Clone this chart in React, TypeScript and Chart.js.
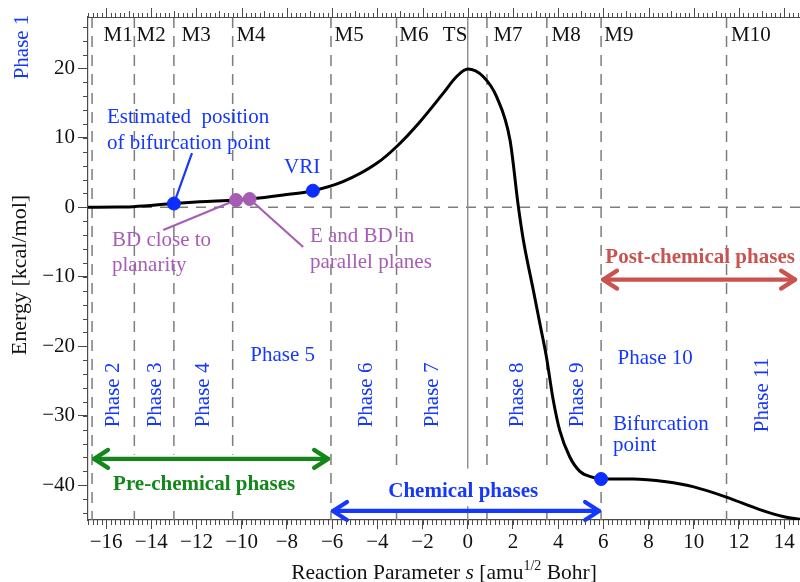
import React, { useEffect, useRef } from 'react';
import { Chart, registerables, LineController } from 'chart.js';

Chart.register(...registerables);

// Marker datasets should not reserve extra layout padding around the plot
class MarkerController extends LineController {
  static id = 'markerline';
  static defaults = LineController.defaults;
  getMaxOverflow() { return 0; }
}
Chart.register(MarkerController as any);

// ---- data ----
const sValues = [-16.8, -15.5, -14.8, -13.0, -11.85, -10.25, -9.65, -8.16, -6.85, -5.52, -4.04, -3.13, -2.12, -1.09, -0.5, 0, 0.69, 1.28, 1.87, 2.24, 2.46, 2.9, 3.19, 3.48, 3.78, 4.07, 4.51, 4.96, 5.47, 5.9, 7.3, 8.78, 9.96, 11.44, 12.92, 13.95, 14.7];
const energyValues = [0.0, 0.05, 0.1, 0.55, 0.8, 1.05, 1.2, 1.78, 2.4, 3.7, 6.3, 8.8, 12.3, 16.4, 18.8, 19.9, 18.8, 15.9, 9.7, 0.1, -4.7, -11.9, -16.7, -21.5, -27.7, -32.1, -35.9, -38.0, -38.8, -39.1, -39.1, -39.5, -40.2, -41.7, -43.5, -44.5, -44.9];

const blueS = [-13.0, -6.85, 5.9];
const blueE = [0.55, 2.4, -39.1];
const purpleS = [-10.25, -9.65];
const purpleE = [1.05, 1.2];

const dividerS = [-16.62, -14.75, -13.0, -10.4, -6.05, -3.15, 0.85, 3.5, 5.9, 11.45];
const tsS = 0;

const mLabels = ['M1', 'M2', 'M3', 'M4', 'M5', 'M6', 'TS', 'M7', 'M8', 'M9', 'M10'];
const mLabelS = [-15.47, -14.01, -12.02, -9.59, -5.25, -2.38, -0.56, 1.78, 4.35, 6.69, 12.53];

const rotatedPhases = ['Phase 2', 'Phase 3', 'Phase 4', 'Phase 6', 'Phase 7', 'Phase 8', 'Phase 9', 'Phase 11'];
const rotatedPhaseS = [-15.69, -13.83, -11.71, -4.46, -1.58, 2.18, 4.84, 13.02];
const flatPhases = ['Phase 5', 'Phase 10'];
const flatPhaseS = [-8.19, 8.29];

const xMin = -16.8, xMax = 14.7, yMin = -45, yMax = 27.4;

const SERIF = '"Liberation Serif", "Times New Roman", serif';
const BLUE = '#1538ff';
const PURPLE = '#a65db6';
const GREEN = '#13871a';
const RED = '#c8534f';
const GRAY = '#7d7d7d';
const AXIS = '#4a4a4a';

const font = (size: number, weight = 'normal', style = 'normal') => `${style} ${weight} ${size}px ${SERIF}`;

function text(ctx: CanvasRenderingContext2D, t: string, x: number, y: number, f: string, color: string, align: CanvasTextAlign = 'left', rotate = false) {
  ctx.save();
  ctx.font = f;
  ctx.fillStyle = color;
  ctx.textAlign = align;
  ctx.textBaseline = 'middle';
  if (rotate) {
    ctx.translate(x, y);
    ctx.rotate(-Math.PI / 2);
    ctx.fillText(t, 0, 0);
  } else {
    ctx.fillText(t, x, y);
  }
  ctx.restore();
}

function line(ctx: CanvasRenderingContext2D, x1: number, y1: number, x2: number, y2: number, color: string, w: number, dash: number[] = []) {
  ctx.save();
  ctx.strokeStyle = color;
  ctx.lineWidth = w;
  ctx.setLineDash(dash);
  ctx.beginPath();
  ctx.moveTo(x1, y1);
  ctx.lineTo(x2, y2);
  ctx.stroke();
  ctx.restore();
}

function dblArrow(ctx: CanvasRenderingContext2D, x1: number, x2: number, y: number, color: string) {
  ctx.save();
  ctx.strokeStyle = color;
  ctx.lineWidth = 4.2;
  ctx.lineCap = 'round';
  ctx.lineJoin = 'round';
  ctx.beginPath();
  ctx.moveTo(x1 + 2, y);
  ctx.lineTo(x2 - 2, y);
  ctx.stroke();
  const hl = 16, hw = 9;
  ctx.beginPath();
  ctx.moveTo(x1 + hl, y - hw);
  ctx.lineTo(x1 + 2, y);
  ctx.lineTo(x1 + hl, y + hw);
  ctx.moveTo(x2 - hl, y - hw);
  ctx.lineTo(x2 - 2, y);
  ctx.lineTo(x2 - hl, y + hw);
  ctx.stroke();
  ctx.restore();
}

const annotPlugin = {
  id: 'annot',
  beforeDatasetsDraw(chart: any) {
    const { ctx, chartArea: a, scales } = chart;
    const X = (v: number) => scales.x.getPixelForValue(v);
    const Y = (v: number) => scales.y.getPixelForValue(v);
    ctx.save();
    ctx.beginPath();
    ctx.rect(a.left, a.top, a.right - a.left, a.bottom - a.top);
    ctx.clip();
    line(ctx, a.left, Y(0), a.right, Y(0), GRAY, 1.5, [10, 8]);
    dividerS.forEach((s) => line(ctx, X(s), a.top, X(s), a.bottom, GRAY, 1.5, [11, 8]));
    line(ctx, X(tsS), a.top, X(tsS), a.bottom, '#8c8c8c', 1.4);
    ctx.fillStyle = '#ffffff';
    ctx.fillRect(X(-16.4), Y(-35.6), X(-6.25) - X(-16.4), Y(-43.2) - Y(-35.6));
    ctx.fillRect(X(-5.8), Y(-37.6), X(5.2) - X(-5.8), Y(-43.0) - Y(-37.6));
    line(ctx, X(-12.2), Y(7.8), X(blueS[0]), Y(blueE[0]), BLUE, 2.2);
    line(ctx, X(-13.47), Y(-3.25), X(purpleS[0]), Y(purpleE[0]), PURPLE, 2.2);
    line(ctx, X(purpleS[1]), Y(purpleE[1]), X(-7.28), Y(-5.7), PURPLE, 2.2);
    ctx.restore();
  },
  afterDatasetsDraw(chart: any) {
    const { ctx, scales } = chart;
    const X = (v: number) => scales.x.getPixelForValue(v);
    const Y = (v: number) => scales.y.getPixelForValue(v);
    const f21 = font(21);
    mLabels.forEach((m, i) => text(ctx, m, X(mLabelS[i]), Y(24.67), f21, '#111', 'center'));
    rotatedPhases.forEach((p, i) => text(ctx, p, X(rotatedPhaseS[i]), Y(-27.0), f21, BLUE, 'center', true));
    text(ctx, flatPhases[0], X(flatPhaseS[0]), Y(-21.25), f21, BLUE, 'center');
    text(ctx, flatPhases[1], X(flatPhaseS[1]), Y(-21.7), f21, BLUE, 'center');

    text(ctx, 'Estimated  position', X(-15.96), Y(13.0), f21, BLUE);
    text(ctx, 'of bifurcation point', X(-15.96), Y(9.25), f21, BLUE);
    text(ctx, 'VRI', X(-7.33), Y(5.8), f21, BLUE, 'center');
    text(ctx, 'BD close to', X(-15.74), Y(-4.7), f21, PURPLE);
    text(ctx, 'planarity', X(-15.74), Y(-8.4), f21, PURPLE);
    text(ctx, 'E and BD in', X(-6.98), Y(-4.26), f21, PURPLE);
    text(ctx, 'parallel planes', X(-6.98), Y(-8.0), f21, PURPLE);
    text(ctx, 'Bifurcation', X(6.43), Y(-31.3), f21, BLUE);
    text(ctx, 'point', X(6.43), Y(-34.3), f21, BLUE);

    const fb = font(21, 'bold');
    text(ctx, 'Post-chemical phases', X(10.28), Y(-7.16), fb, RED, 'center');
    dblArrow(ctx, X(5.9), X(14.57), Y(-10.4), RED);
    text(ctx, 'Pre-chemical phases', X(-11.66), Y(-39.9), fb, GREEN, 'center');
    dblArrow(ctx, X(-16.62), X(-6.09), Y(-36.2), GREEN);
    text(ctx, 'Chemical phases', X(-0.2), Y(-40.95), fb, BLUE, 'center');
    dblArrow(ctx, X(-6.05), X(5.9), Y(-43.7), BLUE);
  },
  afterDraw(chart: any) {
    const { ctx, chartArea: a, scales } = chart;
    const X = (v: number) => scales.x.getPixelForValue(v);
    const Y = (v: number) => scales.y.getPixelForValue(v);
    ctx.save();
    ctx.strokeStyle = AXIS;
    ctx.lineWidth = 1.2;
    ctx.beginPath();
    ctx.moveTo(a.left, a.top + 0.5);
    ctx.lineTo(a.right, a.top + 0.5);
    ctx.stroke();
    ctx.lineWidth = 1;
    ctx.beginPath();
    for (let k = Math.ceil(xMin / 0.2); k * 0.2 <= xMax; k++) {
      const v = k * 0.2;
      const px = Math.round(X(v)) + 0.5;
      const major = Math.abs(v / 2 - Math.round(v / 2)) < 1e-6;
      ctx.moveTo(px, a.bottom);
      ctx.lineTo(px, a.bottom + 5);
      ctx.moveTo(px, a.top);
      ctx.lineTo(px, a.top - (major ? 9 : (Math.abs(v - Math.round(v)) < 1e-6 ? 6 : 4)));
    }
    for (let k = Math.ceil(yMin / 2); k * 2 <= yMax; k++) {
      const py = Math.round(Y(k * 2)) + 0.5;
      ctx.moveTo(a.left, py);
      ctx.lineTo(a.left - 5, py);
    }
    ctx.stroke();
    ctx.restore();

    text(ctx, 'Energy [kcal/mol]', 20, 275, font(22), '#111', 'center', true);
    text(ctx, 'Phase 1', 22, 47, font(21), BLUE, 'center', true);

    const runs: [string, string, number][] = [
      ['Reaction Parameter ', font(21.5), 0],
      ['s', font(21.5, 'normal', 'italic'), 0],
      [' [amu', font(21.5), 0],
      ['1/2', font(14), -7],
      [' Bohr]', font(21.5), 0],
    ];
    ctx.save();
    let total = 0;
    runs.forEach(([t, f]) => { ctx.font = f; total += ctx.measureText(t).width; });
    let cx = (a.left + a.right) / 2 - total / 2;
    ctx.fillStyle = '#111';
    ctx.textBaseline = 'middle';
    ctx.textAlign = 'left';
    runs.forEach(([t, f, dy]) => {
      ctx.font = f;
      ctx.fillText(t, cx, 573 + dy);
      cx += ctx.measureText(t).width;
    });
    ctx.restore();
  },
};

const fmt = (v: any) => String(v).replace('-', '\u2212');

export default function App() {
  const ref = useRef<HTMLCanvasElement>(null);
  useEffect(() => {
    document.body.style.margin = '0';
    if (!ref.current) return;
    const chart = new Chart(ref.current, {
      type: 'line',
      data: {
        datasets: [
          {
            type: 'markerline',
            label: 'blue points',
            data: blueS.map((s, i) => ({ x: s, y: blueE[i] })),
            showLine: false,
            pointRadius: 6.5,
            pointBackgroundColor: '#0b2dff',
            pointBorderColor: '#0b2dff',
            pointBorderWidth: 1,
            order: 0,
          },
          {
            type: 'markerline',
            label: 'purple points',
            data: purpleS.map((s, i) => ({ x: s, y: purpleE[i] })),
            showLine: false,
            pointRadius: 6.5,
            pointBackgroundColor: '#a45cb5',
            pointBorderColor: '#a45cb5',
            pointBorderWidth: 1,
            order: 0,
          },
          {
            type: 'line',
            label: 'Energy',
            data: sValues.map((s, i) => ({ x: s, y: energyValues[i] })),
            borderColor: '#000',
            borderWidth: 3,
            pointRadius: 0,
            cubicInterpolationMode: 'monotone',
            fill: false,
            order: 1,
          },
        ],
      } as any,
      options: {
        responsive: false,
        animation: false,
        devicePixelRatio: 1,
        layout: { padding: { left: 0, right: 0, top: 17, bottom: 0 } },
        plugins: { legend: { display: false }, tooltip: { enabled: false } },
        scales: {
          x: {
            type: 'linear',
            min: xMin,
            max: xMax,
            position: 'bottom',
            afterFit: (s: any) => { s.height = 62; s.paddingLeft = 0; s.paddingRight = 0; },
            ticks: {
              stepSize: 2,
              includeBounds: false,
              autoSkip: false,
              maxRotation: 0,
              padding: 1,
              color: '#111',
              font: { family: SERIF, size: 21 },
              callback: fmt,
            },
            grid: { drawOnChartArea: false, tickLength: 9, color: AXIS, lineWidth: 1 },
            border: { display: true, color: AXIS, width: 1.2 },
          },
          y: {
            type: 'linear',
            min: yMin,
            max: yMax,
            afterFit: (s: any) => { s.width = 88; s.paddingTop = 0; s.paddingBottom = 0; },
            ticks: {
              stepSize: 10,
              includeBounds: false,
              padding: 3,
              color: '#111',
              font: { family: SERIF, size: 21 },
              callback: fmt,
            },
            grid: { drawOnChartArea: false, tickLength: 10, color: AXIS, lineWidth: 1 },
            border: { display: true, color: AXIS, width: 1.2 },
          },
        },
      } as any,
      plugins: [annotPlugin],
    });
    return () => chart.destroy();
  }, []);
  return (
    <div style={{ position: 'absolute', left: 0, top: 0, width: 800, height: 582 }}>
      <canvas ref={ref} width={800} height={582} style={{ display: 'block' }} />
    </div>
  );
}
